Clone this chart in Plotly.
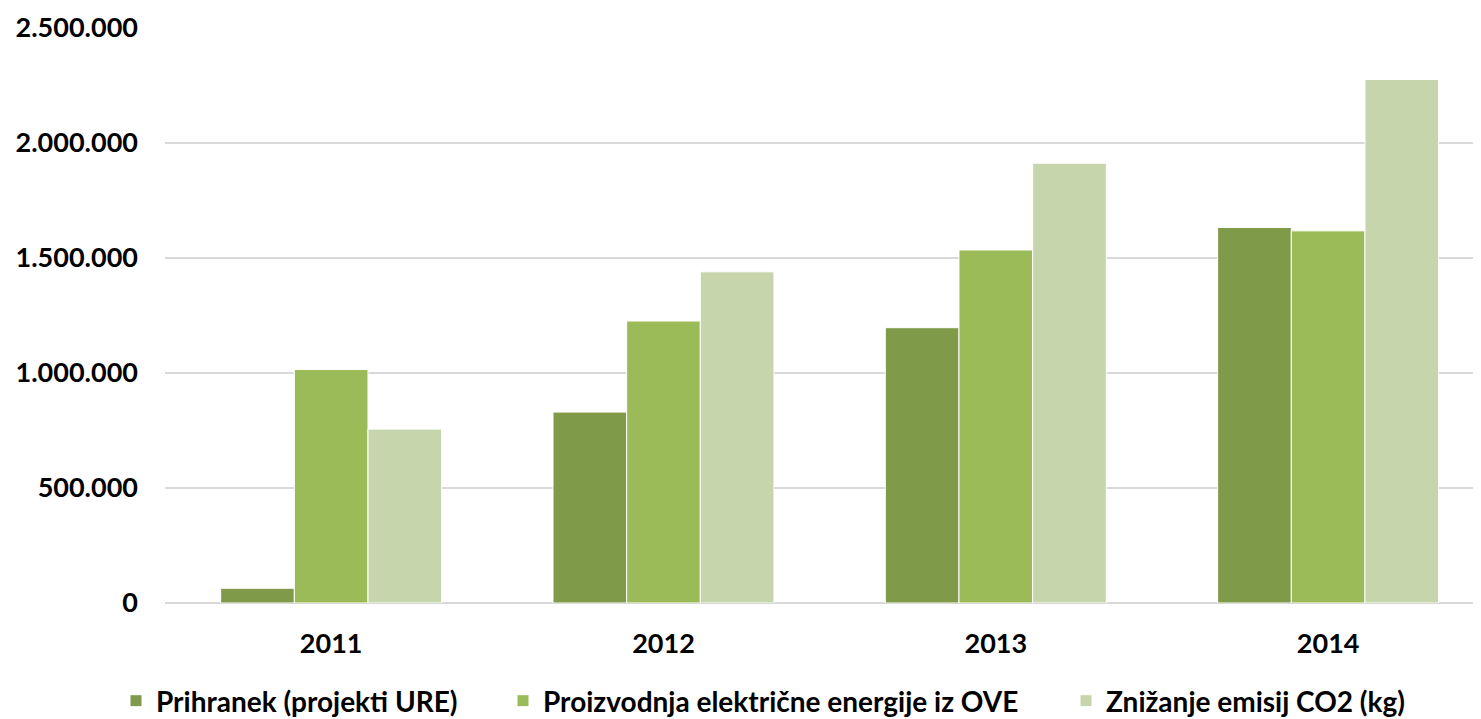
import plotly.graph_objects as go

years = ['2011', '2012', '2013', '2014']
prihranek = [64000, 830000, 1197000, 1633000]
proizvodnja = [1015000, 1226000, 1535000, 1618000]
znizanje = [756000, 1440000, 1912000, 2276000]

series = [
    ('Prihranek (projekti URE)', prihranek, '#7f9a48', 'legend'),
    ('Proizvodnja električne energije iz OVE', proizvodnja, '#9bbb59', 'legend2'),
    ('Znižanje emisij CO2 (kg)', znizanje, '#c6d5ab', 'legend3'),
]

fig = go.Figure()
for name, vals, color, leg in series:
    fig.add_trace(go.Bar(
        x=years, y=vals, name=name, legend=leg, showlegend=True,
        marker=dict(color=color, line=dict(color='white', width=1)),
    ))

# page body has an 8px margin, so the figure is sized to the visible area
W, H = 1473, 711

# one legend per series so each entry can sit where the original has it
leg_common = dict(orientation='h', xref='container', yref='container',
                  y=18 / H, xanchor='left', yanchor='middle',
                  font=dict(size=28, weight='bold'), itemwidth=30)

fig.update_layout(
    width=W, height=H,
    showlegend=True,
    barmode='group', bargap=0.335, bargroupgap=0,
    separators=',.',
    plot_bgcolor='white', paper_bgcolor='white',
    font=dict(family='Lato', size=27, color='black', weight='bold'),
    margin=dict(l=157, r=0, t=20, b=116, autoexpand=False),
    xaxis=dict(range=[-0.5, 3.46], showgrid=False, showline=False, automargin=False,
               ticklabelstandoff=22, tickfont=dict(size=27, weight='bold')),
    yaxis=dict(range=[0, 2500000], dtick=500000, tickformat=',d', automargin=False,
               showgrid=True, gridcolor='#d9d9d9', gridwidth=2,
               zeroline=True, zerolinecolor='#d9d9d9', zerolinewidth=2,
               ticklabelstandoff=26, tickfont=dict(size=27, weight='bold')),
    legend=dict(leg_common, x=108 / W),
    legend2=dict(leg_common, x=495 / W),
    legend3=dict(leg_common, x=1058 / W),
)

fig.write_html("out.html")
